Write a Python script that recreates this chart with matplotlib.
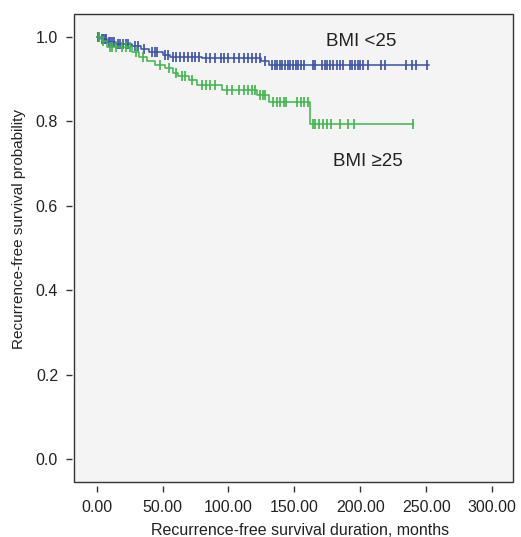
import numpy as np
import matplotlib
matplotlib.use('Agg')
import matplotlib.pyplot as plt
from matplotlib.patches import Rectangle

plt.rcParams['font.family'] = ['Liberation Sans', 'DejaVu Sans']

# Kaplan-Meier step data (months, survival)
low_times = [0, 3, 8, 15, 27, 34, 40, 50, 56, 80, 125, 131]
low_surv = [1.0, 0.994, 0.988, 0.983, 0.978, 0.971, 0.963, 0.957, 0.952, 0.949, 0.943, 0.933]
low_end = 252
low_censor = [1, 2, 4, 5, 6, 7, 9, 10, 12, 13, 16, 18, 20, 22, 24, 29, 31, 36, 42, 44, 46,
              52, 54, 58, 60, 63, 66, 69, 72, 75, 78, 83, 86, 90, 94, 97, 100, 104, 108,
              112, 115, 118, 121, 124, 128, 133, 135, 137, 139, 141, 143, 145, 147, 149,
              151, 153, 155, 157, 164, 166, 171, 173, 175, 177, 179, 182, 185, 187, 192,
              194, 196, 198, 200, 202, 206, 216, 219, 235, 239, 242, 251]

high_times = [0, 4, 8, 27, 32, 38, 44, 52, 58, 62, 70, 76, 95, 122, 131, 162]
high_surv = [1.0, 0.99, 0.975, 0.965, 0.953, 0.942, 0.933, 0.925, 0.915, 0.907, 0.897,
             0.885, 0.875, 0.862, 0.845, 0.794]
high_end = 240
high_censor = [2, 5, 10, 12, 15, 19, 22, 25, 30, 35, 48, 55, 60, 65, 67, 72, 80, 83, 86,
               90, 99, 103, 108, 112, 115, 118, 120, 124, 126, 128, 134, 137, 139, 142,
               144, 152, 155, 157, 160, 164, 166, 169, 172, 175, 178, 185, 191, 195, 240]

blue = '#3b4fa8'
green = '#3db54a'


def surv_at(times, surv, t):
    idx = np.searchsorted(times, t, side='right') - 1
    return np.asarray(surv)[idx]


fig = plt.figure(figsize=(5.21, 5.37), dpi=100)
ax = fig.add_axes([0.142, 0.1024, 0.8426, 0.8716])
ax.set_facecolor('#f4f4f4')

for times, surv, end, cens, col in [(low_times, low_surv, low_end, low_censor, blue),
                                     (high_times, high_surv, high_end, high_censor, green)]:
    xs = list(times) + [end]
    ys = list(surv) + [surv[-1]]
    ax.step(xs, ys, where='post', color=col, lw=1.1)
    ax.plot(cens, surv_at(times, surv, cens), ls='none', marker='|', ms=7, mew=1.2, color=col)

ax.text(201, 0.988, 'BMI <25', fontsize=13.5, ha='center', va='center', color='#222222')
ax.text(206, 0.704, 'BMI \u226525', fontsize=13.5, ha='center', va='center', color='#222222')

ax.set_xlim(-17.2, 315.9)
ax.set_ylim(-0.0537, 1.054)
ax.set_xticks([0, 50, 100, 150, 200, 250, 300])
ax.set_xticklabels(['0.00', '50.00', '100.00', '150.00', '200.00', '250.00', '300.00'])
ax.set_yticks([0.0, 0.2, 0.4, 0.6, 0.8, 1.0])
ax.set_yticklabels(['0.0', '0.2', '0.4', '0.6', '0.8', '1.0'])

for s in ax.spines.values():
    s.set_visible(False)
ax.spines['bottom'].set_position(('outward', 3))
ax.spines['left'].set_position(('outward', 1.5))
ax.add_patch(Rectangle((0, 0), 1, 1, transform=ax.transAxes, fill=False,
                       ec='#333333', lw=1.0, clip_on=False, zorder=5))
ax.tick_params(axis='both', direction='out', length=4, width=1.0, color='#333333',
               labelsize=11.5, labelcolor='#222222')
ax.tick_params(axis='x', pad=6)
ax.tick_params(axis='y', pad=6)

ax.set_xlabel('Recurrence-free survival duration, months', fontsize=11.5, color='#222222',
              labelpad=5.5, x=0.515)
ax.set_ylabel('Recurrence-free survival probability', fontsize=11, color='#222222',
              labelpad=7, y=0.54)

fig.savefig('out.png', dpi=100)
